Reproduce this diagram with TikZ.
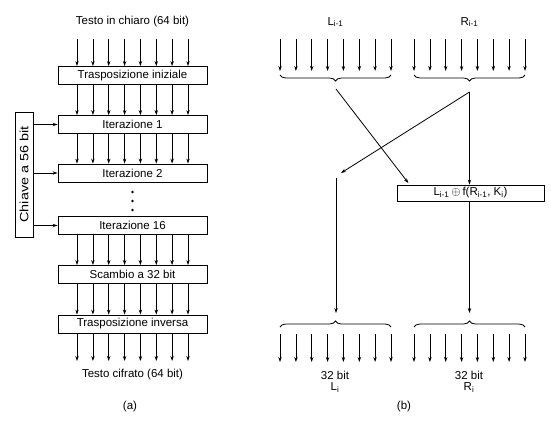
\documentclass[tikz,border=0pt]{standalone}
\usepackage{fontspec}
\setmainfont{Liberation Sans}
\usetikzlibrary{arrows.meta,decorations.pathreplacing}
\newcommand{\sbs}[1]{\textsubscript{#1}}
\begin{document}
\begin{tikzpicture}[x=1pt,y=-1pt,
  font=\fontsize{11.5}{13}\selectfont,
  line width=0.8pt,
  bitarrow/.style={-{Stealth[length=5pt,width=3.4pt]}},
  blk/.style={draw, minimum width=149pt, minimum height=18pt, inner sep=0pt},
  bracedown/.style={decorate, decoration={brace, amplitude=6pt}},
  lbl/.style={inner sep=0pt}]
\useasboundingbox (0,0) rectangle (551,424);
\def\offs{-55.5,-39.6,-23.8,-7.9,7.9,23.8,39.6,55.5}
% ---------- (a) ----------
\node[lbl] (tin) at (132.5,22) {Testo in chiaro (64 bit)};
\coordinate (tstart) at (132.5,39);
\node[blk] (b0) at (132.5,75.5) {Trasposizione iniziale};
\node[blk] (b1) at (132.5,124.5) {Iterazione 1};
\node[blk] (b2) at (132.5,173) {Iterazione 2};
\node[blk] (b16) at (132.5,225.5) {Iterazione 16};
\node[blk] (bs) at (132.5,274.5) {Scambio a 32 bit};
\node[blk] (bi) at (132.5,324) {Trasposizione inversa};
\coordinate (tend) at (132.5,361);
\node[lbl] (tout) at (132.5,375) {Testo cifrato (64 bit)};
\node[lbl] (la) at (130,407) {(a)};
\foreach \dx in \offs {
  \draw[bitarrow] ([xshift=\dx pt]tstart) -- ([xshift=\dx pt]b0.north);
  \draw[bitarrow] ([xshift=\dx pt]b0.south) -- ([xshift=\dx pt]b1.north);
  \draw[bitarrow] ([xshift=\dx pt]b1.south) -- ([xshift=\dx pt]b2.north);
  \draw[bitarrow] ([xshift=\dx pt]b16.south) -- ([xshift=\dx pt]bs.north);
  \draw[bitarrow] ([xshift=\dx pt]bs.south) -- ([xshift=\dx pt]bi.north);
  \draw[bitarrow] ([xshift=\dx pt]bi.south) -- ([xshift=\dx pt]tend);
}
\foreach \y in {192,201,210} \fill (132.5,\y) circle (1.4pt);
\node[draw, rotate=90, minimum width=125pt, minimum height=18pt, inner sep=0pt] (key) at (24,174.5)
  {\scalebox{1.2}[1]{\fontsize{12}{14}\selectfont Chiave a 56 bit}};
\foreach \b in {b1,b2,b16}
  \draw[bitarrow] (key.south |- \b.west) -- (\b.west);
% ---------- (b) ----------
\node[lbl] (lprev) at (335.5,22) {L\sbs{i-1}};
\node[lbl] (rprev) at (469.5,22) {R\sbs{i-1}};
\coordinate (lt) at (335.5,39);
\coordinate (rt) at (469.5,39);
\coordinate (lb) at (335.5,71);
\coordinate (rb) at (469.5,71);
\foreach \dx in \offs {
  \draw[bitarrow] ([xshift=\dx pt]lt) -- ([xshift=\dx pt]lb);
  \draw[bitarrow] ([xshift=\dx pt]rt) -- ([xshift=\dx pt]rb);
}
\draw[bracedown] (391,75) -- (280,75);
\draw[bracedown] (525,75) -- (414,75);
\coordinate (ltip) at (336,89);
\coordinate (rtip) at (469.5,92);
\node[draw, minimum width=147pt, minimum height=16pt, inner sep=0pt] (X) at (470.5,193)
  {L\sbs{i-1}\,$\oplus$\,f(R\sbs{i-1}, K\sbs{i})};
\coordinate (lA) at (341,173);
\coordinate (lB) at (336,178);
\draw[bitarrow, shorten >=2pt] (ltip) -- ([xshift=13pt]X.north west);
\draw[bitarrow] (rtip) -- (rtip |- X.north);
\draw[bitarrow] (rtip) -- (lA);
\coordinate (lbt) at (336,318);
\coordinate (rbt) at (469.5,318);
\draw[bitarrow, shorten >=5pt] (lB) -- (lbt);
\draw[bitarrow, shorten >=5pt] (X.south -| rtip) -- (rbt);
\draw[bracedown] (280,327) -- (391,327);
\draw[bracedown] (414,327) -- (525,327);
\coordinate (lt2) at (335.5,334);
\coordinate (rt2) at (469.5,334);
\coordinate (lb2) at (335.5,362);
\coordinate (rb2) at (469.5,362);
\foreach \dx in \offs {
  \draw[bitarrow] ([xshift=\dx pt]lt2) -- ([xshift=\dx pt]lb2);
  \draw[bitarrow] ([xshift=\dx pt]rt2) -- ([xshift=\dx pt]rb2);
}
\node[lbl] (l32) at (335,375) {32 bit};
\node[lbl] (li) at (335,387.5) {L\sbs{i}};
\node[lbl] (r32) at (469,375) {32 bit};
\node[lbl] (ri) at (469,387.5) {R\sbs{i}};
\node[lbl] (lbb) at (404,407) {(b)};
\end{tikzpicture}
\end{document}
